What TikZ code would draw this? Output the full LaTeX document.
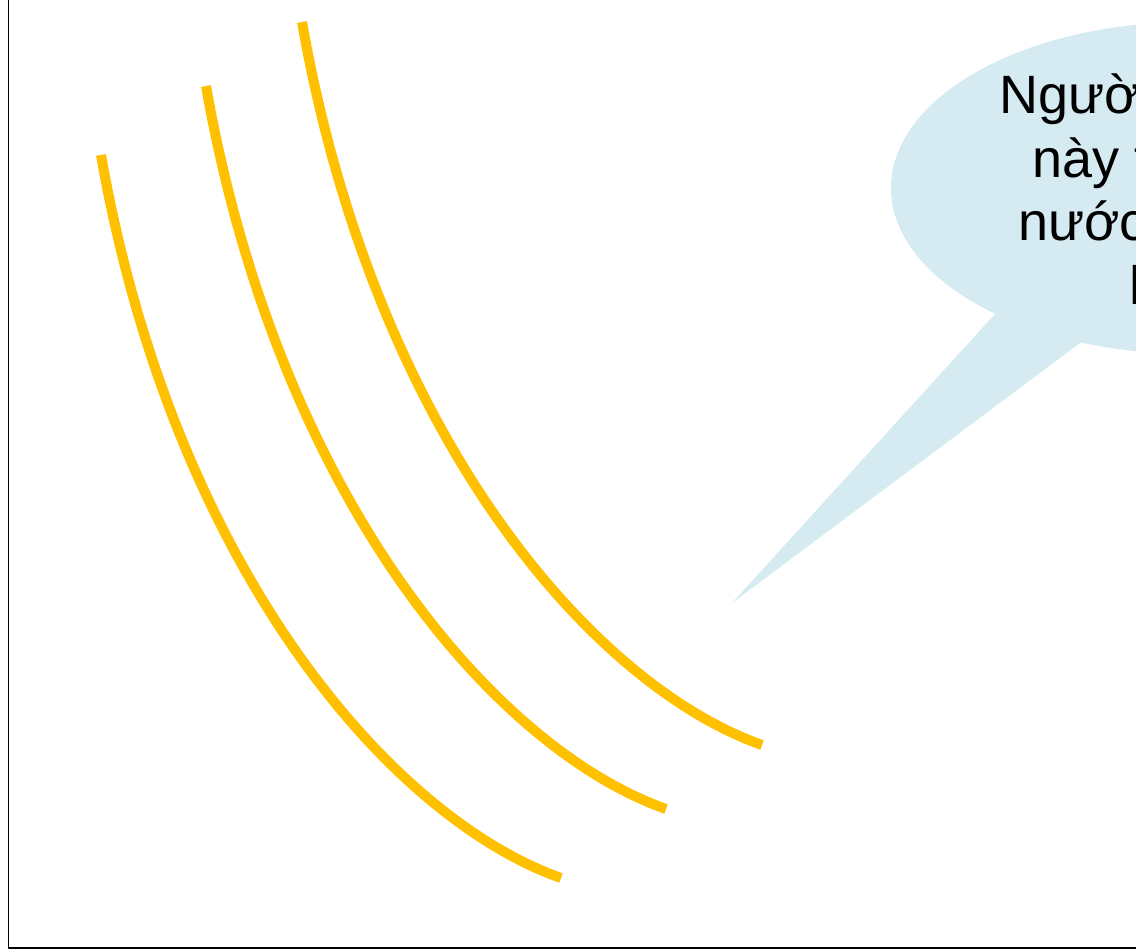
\documentclass[tikz,border=0pt]{standalone}
\usepackage{fontspec}
\setmainfont{Liberation Sans}
\definecolor{vang}{RGB}{255,192,0}
\definecolor{xanhnhat}{RGB}{213,234,241}
\begin{document}
\begin{tikzpicture}[x=1pt, y=-1pt, line join=round, every node/.style={font=\fontsize{54}{63}\selectfont, inner sep=0pt, anchor=base west}, duong/.style={draw=vang, line width=10pt}, truc/.style={line width=1.8pt}]
		
		\useasboundingbox (0,0) rectangle (1136,949);
		
		\draw[truc] (8.5,0) -- (8.5,948) -- (1136,948);
		
		\foreach \x/\y in {101/155, 206/86, 302/22} {
			\draw[duong, shift={(\x,\y)}] (0,0) .. controls (73,414) and (290,663) .. (460,723);
		}
		
		\fill[xanhnhat] (1191,188) ellipse [x radius=300pt, y radius=166pt];
		\fill[xanhnhat] (995,314) -- (732,603) -- (1080,343) -- (1040,300) -- cycle;
		
		\foreach \dong/\x [count=\i] in {Người/999, này t/1032, nước/1018, h/1129} {
			\node (dong\i) at (\x, {114+63.5*(\i-1)}) {\dong};
		}
		
	\end{tikzpicture}
\end{document}
